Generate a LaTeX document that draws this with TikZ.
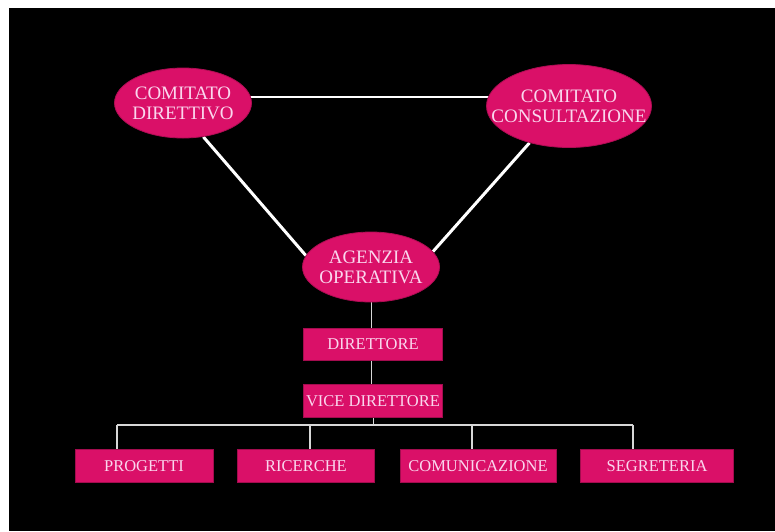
\documentclass[tikz,border=0pt]{standalone}
\usepackage{fontspec}
\setmainfont{Liberation Serif}
\usetikzlibrary{shapes.geometric,backgrounds}
\definecolor{mag}{RGB}{218,16,104}
\definecolor{txt}{RGB}{250,215,238}
\definecolor{bus}{RGB}{215,215,215}
\tikzset{
  oval/.style={ellipse, fill=mag, draw=mag!80!black, line width=0.8pt, inner sep=0pt},
  ovaltext/.style={align=center, text=txt, inner sep=0pt, font=\fontsize{19}{20}\selectfont},
  box/.style={rectangle, fill=mag, draw=mag!75!black, line width=0.8pt, inner sep=0pt, minimum width=139pt, minimum height=32pt, text=txt, font=\fontsize{16.5}{18}\selectfont},
  thick link/.style={draw=white, line width=3pt},
  thin link/.style={draw=bus, line width=1pt},
  bus link/.style={draw=bus, line width=2pt}
}
\begin{document}
\begin{tikzpicture}[x=1pt,y=-1pt]
\useasboundingbox (0,0) rectangle (775,531);
\node[oval, minimum width=137pt, minimum height=70pt] (e1) at (183,103) {};
\node[ovaltext] (e1t) at (e1.center) {COMITATO\\DIRETTIVO};
\node[oval, minimum width=165pt, minimum height=83pt] (e2) at (569,106) {};
\node[ovaltext] (e2t) at (e2.center) {COMITATO\\CONSULTAZIONE};
\node[oval, minimum width=137pt, minimum height=70pt] (e3) at (371,267) {};
\node[ovaltext] (e3t) at (e3.center) {AGENZIA\\OPERATIVA};
\node[box] (dir) at (373,344) {DIRETTORE};
\node[box, minimum height=33pt] (vice) at (373,401) {VICE DIRETTORE};
\node[box, minimum width=138pt, minimum height=33pt] (p1) at (144,466) {PROGETTI};
\node[box, minimum width=137pt, minimum height=33pt] (p2) at (306,466) {RICERCHE};
\node[box, minimum width=156pt, minimum height=33pt] (p3) at (478,466) {COMUNICAZIONE};
\node[box, minimum width=153pt, minimum height=33pt] (p4) at (657,466) {SEGRETERIA};
\coordinate (busL) at (117,425);
\coordinate (busR) at (633,425);
\coordinate (t1) at (117,425);
\coordinate (t2) at (310,425);
\coordinate (t3) at (472,425);
\coordinate (t4) at (633,425);
\begin{scope}[on background layer]
\fill[white] (0,0) rectangle (775,531);
\fill[black] (9,8) rectangle (775,531);
\draw[white, line width=2pt] ([yshift=6pt]e1.center) -- ([yshift=6pt]e1.center -| e2.center);
\draw[thick link] (e1.-59) -- (e3.170);
\draw[thick link] (e2.-137) -- (e3.14);
\draw[thin link] (e3.south) -- (e3.south |- dir.north);
\draw[thin link] (e3.south |- dir.south) -- (e3.south |- vice.north);
\draw[thin link] (vice.south) -- (vice.south |- busL);
\draw[bus link] (busL) -- (busR);
\draw[thin link, line width=1.5pt] (t1) -- (t1 |- p1.north);
\draw[thin link, line width=1.5pt] (t2) -- (t2 |- p2.north);
\draw[thin link, line width=1.5pt] (t3) -- (t3 |- p3.north);
\draw[thin link, line width=1.5pt] (t4) -- (t4 |- p4.north);
\end{scope}
\end{tikzpicture}
\end{document}
